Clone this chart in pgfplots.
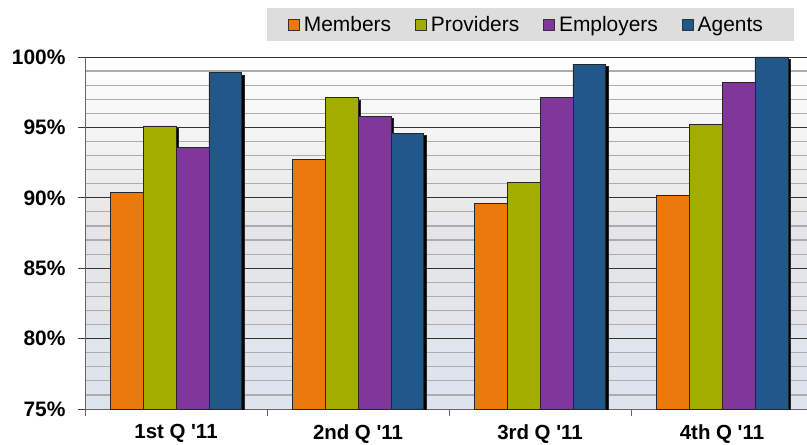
\documentclass[border=0pt]{standalone}
\usepackage{pgfplots}
\pgfplotsset{compat=1.18}
\usepackage{fontspec}
\setmainfont{Liberation Sans}
\usetikzlibrary{shadows}
\definecolor{cOrange}{RGB}{236,121,12}
\definecolor{cGreen}{RGB}{163,173,0}
\definecolor{cPurple}{RGB}{127,55,153}
\definecolor{cBlue}{RGB}{33,88,138}
\definecolor{bgBot}{RGB}{221,228,238}
\definecolor{bgMid}{RGB}{229,229,231}
\definecolor{legfill}{RGB}{221,221,221}
\tikzset{barshadow/.style={drop shadow={shadow xshift=2.5bp, shadow yshift=-2.5bp, fill=black, opacity=1}}}
\begin{document}
\begin{tikzpicture}
\useasboundingbox (0,0) rectangle (807bp,445bp);
\begin{axis}[
  at={(85bp,36bp)}, anchor=south west,
  scale only axis, width=722bp, height=352bp,
  xmin=-0.5, xmax=3.467, ymin=75, ymax=100,
  axis x line*=bottom, axis y line*=left,
  axis line style={draw=gray!80!black, line width=1bp, -},
  ytick={75,80,...,100}, minor y tick num=4,
  ymajorgrids, yminorgrids,
  minor grid style={draw=gray!65, line width=1.2bp},
  major grid style={draw=black!80, line width=0.9bp},
  tick align=outside, major tick length=7bp, minor tick length=0pt,
  ytick style={draw=black!75, line width=0.9bp},
  yticklabel={\pgfmathprintnumber{\tick}\%},
  /pgf/number format/assume math mode=true,
  yticklabel style={font=\bfseries\fontsize{21}{21}\selectfont, xshift=-9bp},
  xtick={-0.5,0.5,1.5,2.5}, xticklabels={},
  xtick style={draw=gray!80!black, line width=0.9bp},
  extra x ticks={0,1,2,3},
  extra x tick labels={1st Q \textquotesingle 11, 2nd Q \textquotesingle 11, 3rd Q \textquotesingle 11, 4th Q \textquotesingle 11},
  extra x tick style={major tick length=0pt, grid=none, xticklabel style={font=\bfseries\fontsize{20.5}{20.5}\selectfont, yshift=-12bp}},
  axis background/.style={top color=white, bottom color=bgBot, middle color=bgMid},
  ybar=0pt, bar width=0.181,
  legend image code/.code={\draw[#1, line width=0.8bp] (0bp,-5.5bp) rectangle (11bp,5.5bp);},
  legend columns=4,
  legend style={at={(0.252,1.139)}, anchor=north west, fill=legfill, draw=none,
    font=\fontsize{21}{21}\selectfont, inner xsep=21bp, inner ysep=6bp,
    /tikz/every even column/.append style={column sep=22bp}},
]
\addlegendimage{fill=cOrange, draw=black!80}
\addlegendimage{fill=cGreen, draw=black!80}
\addlegendimage{fill=cPurple, draw=black!80}
\addlegendimage{fill=cBlue, draw=black!80}
\legend{\hspace*{2bp}Members, \hspace*{2bp}Providers, \hspace*{2bp}Employers, \hspace*{2bp}Agents\hspace*{8bp}}
\addplot[fill=cOrange, draw=black!85, line width=0.8bp, bar shift=-0.2715, barshadow]
  coordinates {(0,90.4) (1,92.7) (2,89.6) (3,90.15)};
\addplot[fill=cGreen, draw=black!85, line width=0.8bp, bar shift=-0.0905, barshadow]
  coordinates {(0,95.1) (1,97.1) (2,91.1) (3,95.2)};
\addplot[fill=cPurple, draw=black!85, line width=0.8bp, bar shift=0.0905, barshadow]
  coordinates {(0,93.6) (1,95.8) (2,97.1) (3,98.2)};
\addplot[fill=cBlue, draw=black!85, line width=0.8bp, bar shift=0.2715, barshadow]
  coordinates {(0,98.9) (1,94.6) (2,99.5) (3,100)};
\end{axis}
\end{tikzpicture}
\end{document}
